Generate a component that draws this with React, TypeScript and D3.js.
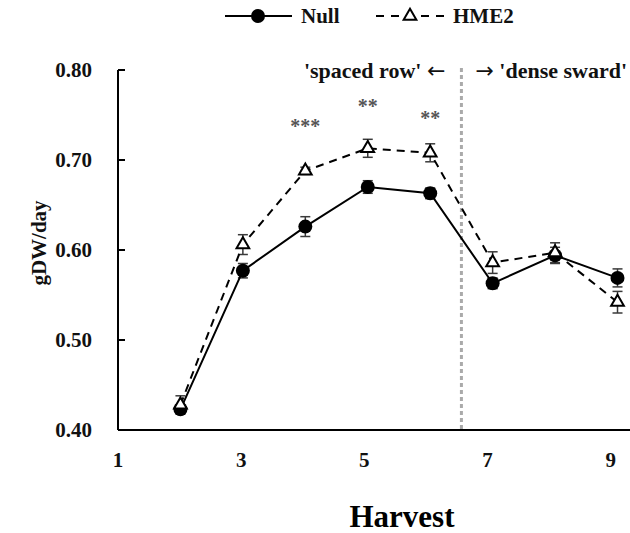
import React from 'react';
import * as d3 from 'd3';

// harvest number vs growth rate (gDW/day)
const harvests = [2, 3, 4, 5, 6, 7, 8, 9];
const nullMean = [0.423, 0.577, 0.626, 0.670, 0.663, 0.563, 0.594, 0.569];
const nullErr = [0.004, 0.008, 0.011, 0.007, 0.006, 0.006, 0.009, 0.010];
const hmeMean = [0.428, 0.606, 0.688, 0.713, 0.708, 0.586, 0.597, 0.542];
const hmeErr = [0.010, 0.011, 0.004, 0.010, 0.010, 0.012, 0.011, 0.012];

const xTicks = [1, 3, 5, 7, 9];
const yTicks = [0.4, 0.5, 0.6, 0.7, 0.8];

// significance marks above harvests
const stars = [
  { h: 4, v: 0.746, label: '***' },
  { h: 5, v: 0.768, label: '**' },
  { h: 6, v: 0.755, label: '**' },
];
const divider = 6.5;

const FONT = '"Liberation Serif", "DejaVu Serif", serif';
const ARROW_FONT = '"DejaVu Sans", sans-serif';
const INK = '#111';

export default function App() {
  const W = 630;
  const H = 533;
  const x = d3.scaleLinear().domain([1, 9.2]).range([118, 630]);
  const y = d3.scaleLinear().domain([0.4, 0.8]).range([430, 70]);

  const line = d3
    .line<number>()
    .x((_, i) => x(harvests[i]))
    .y((d) => y(d));

  const tri = d3.symbol(d3.symbolTriangle, 70)();

  const errBars = (means: number[], errs: number[], key: string) =>
    means.map((m, i) => (
      <g key={key + i} stroke="#3a3a3a" strokeWidth={1.5}>
        <line x1={x(harvests[i])} x2={x(harvests[i])} y1={y(m - errs[i])} y2={y(m + errs[i])} />
        <line x1={x(harvests[i]) - 5} x2={x(harvests[i]) + 5} y1={y(m + errs[i])} y2={y(m + errs[i])} />
        <line x1={x(harvests[i]) - 5} x2={x(harvests[i]) + 5} y1={y(m - errs[i])} y2={y(m - errs[i])} />
      </g>
    ));

  return (
    <svg width={W} height={H} style={{ position: 'absolute', left: 0, top: 0, background: '#fff' }}>
      {/* legend */}
      <g fontFamily={FONT} fontWeight="bold" fontSize={21} fill={INK}>
        <line x1={225} x2={292} y1={16} y2={16} stroke="#000" strokeWidth={2} />
        <circle cx={258} cy={16} r={7} fill="#000" />
        <text x={301} y={23}>Null</text>
        <line x1={376} x2={446} y1={16} y2={16} stroke="#000" strokeWidth={2} strokeDasharray="8,7" />
        <path d={tri} transform="translate(410,16)" fill="#fff" stroke="#000" strokeWidth={2} />
        <text x={453} y={23}>HME2</text>
      </g>

      {/* divider between layouts */}
      <line
        x1={x(divider)}
        x2={x(divider)}
        y1={68}
        y2={430}
        stroke="#aaa"
        strokeWidth={3}
        strokeDasharray="4,3"
      />
      <g fontFamily={FONT} fontWeight="bold" fontSize={22} fill={INK}>
        <text x={x(divider) - 16} y={78} textAnchor="end">
          'spaced row' <tspan fontFamily={ARROW_FONT} fontWeight="normal">←</tspan>
        </text>
        <text x={x(divider) + 14} y={78}>
          <tspan fontFamily={ARROW_FONT} fontWeight="normal">→</tspan> 'dense sward'
        </text>
      </g>

      {/* axes */}
      <line x1={118} x2={118} y1={y(0.8)} y2={y(0.4)} stroke="#000" strokeWidth={2} />
      <line x1={118} x2={630} y1={y(0.4)} y2={y(0.4)} stroke="#000" strokeWidth={2} />
      {yTicks.map((t) => (
        <g key={t}>
          <line x1={118} x2={125} y1={y(t)} y2={y(t)} stroke="#000" strokeWidth={2} />
          <text
            x={92}
            y={y(t)}
            dy="0.35em"
            textAnchor="end"
            fontFamily={FONT}
            fontWeight="bold"
            fontSize={21}
            fill={INK}
          >
            {t.toFixed(2)}
          </text>
        </g>
      ))}
      {xTicks.map((t) => (
        <text
          key={t}
          x={x(t) - (t - 1) * 0.85}
          y={467}
          textAnchor="middle"
          fontFamily={FONT}
          fontWeight="bold"
          fontSize={21}
          fill={INK}
        >
          {t}
        </text>
      ))}
      <text
        transform="translate(46,243) rotate(-90)"
        textAnchor="middle"
        fontFamily={FONT}
        fontWeight="bold"
        fontSize={21}
        fill={INK}
      >
        gDW/day
      </text>
      <text x={402} y={527} textAnchor="middle" fontFamily={FONT} fontWeight="bold" fontSize={31} fill="#000">
        Harvest
      </text>

      {/* series */}
      {errBars(nullMean, nullErr, 'n')}
      {errBars(hmeMean, hmeErr, 'h')}
      <path d={line(hmeMean) || ''} fill="none" stroke="#000" strokeWidth={2} strokeDasharray="8,6" />
      <path d={line(nullMean) || ''} fill="none" stroke="#000" strokeWidth={2} />
      {nullMean.map((m, i) => (
        <circle key={'c' + i} cx={x(harvests[i])} cy={y(m)} r={7} fill="#000" />
      ))}
      {hmeMean.map((m, i) => (
        <path
          key={'t' + i}
          d={tri}
          transform={`translate(${x(harvests[i])},${y(m)})`}
          fill="#fff"
          stroke="#000"
          strokeWidth={2}
        />
      ))}

      {stars.map((s) => (
        <text
          key={s.h}
          x={x(s.h)}
          y={y(s.v)}
          dy="0.7em"
          textAnchor="middle"
          fontFamily={FONT}
          fontWeight="bold"
          fontSize={20}
          fill="#555"
        >
          {s.label}
        </text>
      ))}
    </svg>
  );
}
